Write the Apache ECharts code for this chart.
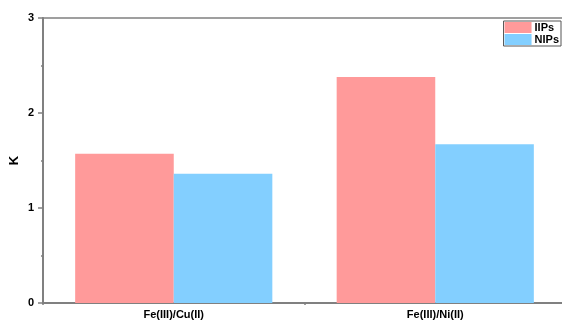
<!DOCTYPE html>
<html>
<head>
<meta charset="utf-8">
<script src="https://cdn.jsdelivr.net/npm/echarts@6/dist/echarts.min.js"></script>
<style>html,body{margin:0;padding:0;background:#fff}#c{width:562px;height:320px}</style>
</head>
<body>
<div id="c"></div>
<script>
var categories = ['Fe(III)/Cu(II)', 'Fe(III)/Ni(II)'];
var iipsValues = [1.57, 2.38];
var nipsValues = [1.36, 1.67];
var yTicks = [0, 1, 2, 3];

var chart = echarts.init(document.getElementById('c'));
var font = 'Liberation Sans, Arial, sans-serif';
var axisColor = '#808080';
chart.setOption({
  animation: false,
  grid: { left: 43, top: 18, width: 523, bottom: 17, containLabel: false, outerBoundsMode: 'none', show: true, borderColor: axisColor, borderWidth: 1.5, backgroundColor: 'transparent' },
  legend: {
    orient: 'vertical', right: 1, top: 21,
    itemWidth: 27, itemHeight: 11, itemGap: 1,
    padding: [1, 2, 1, 1],
    borderColor: '#555', borderWidth: 1,
    icon: 'rect',
    textStyle: { fontFamily: font, fontSize: 11, fontWeight: 'bold', color: '#000', padding: [0, 0, 0, -2] },
    data: ['IIPs', 'NIPs']
  },
  xAxis: [{
    type: 'category', data: categories,
    axisLine: { lineStyle: { color: axisColor, width: 2 } },
    axisTick: { alignWithLabel: true, length: 4, lineStyle: { color: axisColor, width: 1.5 } },
    axisLabel: { fontFamily: font, fontSize: 11, fontWeight: 'bold', color: '#000', margin: 6 }
  }, {
    type: 'value', min: 0, max: 2, interval: 1, position: 'bottom',
    axisLine: { show: false }, splitLine: { show: false },
    axisTick: { show: true, length: 2, lineStyle: { color: axisColor, width: 1.5 } },
    axisLabel: { show: false }
  }],
  yAxis: {
    type: 'value', min: yTicks[0], max: yTicks[yTicks.length - 1], interval: 1,
    name: 'K', nameLocation: 'middle', nameGap: 22, nameMoveOverlap: false,
    nameTextStyle: { fontFamily: font, fontSize: 13, fontWeight: 'bold', color: '#000' },
    axisLine: { show: true, lineStyle: { color: axisColor, width: 2 } },
    axisTick: { show: true, length: 5, lineStyle: { color: axisColor, width: 1.5 } },
    minorTick: { show: true, splitNumber: 2, length: 2, lineStyle: { color: axisColor, width: 1.5 } },
    splitLine: { show: false },
    axisLabel: { fontFamily: font, fontSize: 11, fontWeight: 'bold', color: '#000', margin: 9 }
  },
  series: [{
    name: 'IIPs', type: 'bar', data: iipsValues, barGap: 0, barCategoryGap: '24.6%',
    itemStyle: { color: '#ff9a9a' }
  }, {
    name: 'NIPs', type: 'bar', data: nipsValues,
    itemStyle: { color: '#83cfff' }
  }]
});
</script>
</body>
</html>
